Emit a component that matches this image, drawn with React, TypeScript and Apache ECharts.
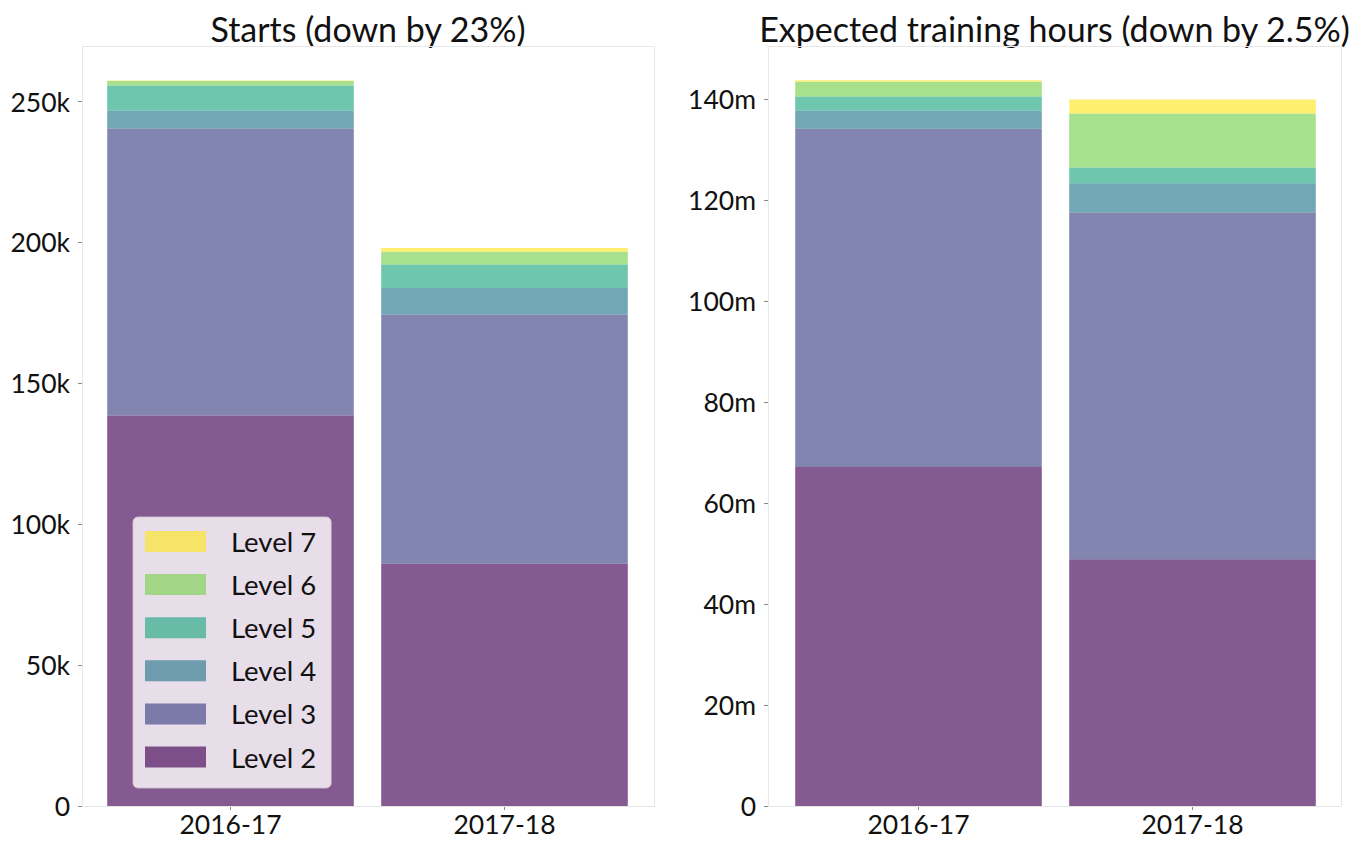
import React, { useEffect, useRef } from "react";
import * as echarts from "echarts";

const categories = ["2016-17", "2017-18"];
const levels = ["Level 2", "Level 3", "Level 4", "Level 5", "Level 6", "Level 7"];
const levelColors = [
  "rgba(68,1,84,0.65)",
  "rgba(65,68,135,0.65)",
  "rgba(42,120,142,0.65)",
  "rgba(34,168,132,0.65)",
  "rgba(122,209,81,0.65)",
  "rgba(253,231,37,0.65)",
];

// Starts by level [2016-17, 2017-18]
const startsL2 = [138600, 86000];
const startsL3 = [101800, 88400];
const startsL4 = [6400, 9400];
const startsL5 = [8900, 8400];
const startsL6 = [1600, 4500];
const startsL7 = [150, 1300];

// Expected training hours by level [2016-17, 2017-18]
const hoursL2 = [67.2e6, 48.9e6];
const hoursL3 = [67.0e6, 68.7e6];
const hoursL4 = [3.6e6, 5.8e6];
const hoursL5 = [2.8e6, 3.1e6];
const hoursL6 = [2.9e6, 10.7e6];
const hoursL7 = [0.3e6, 2.8e6];

const startsTicks = [0, 50000, 100000, 150000, 200000, 250000];
const hoursTicks = [0, 20e6, 40e6, 60e6, 80e6, 100e6, 120e6, 140e6];

const titles = ["Starts (down by 23%)", "Expected training hours (down by 2.5%)"];

const startsByLevel = [startsL2, startsL3, startsL4, startsL5, startsL6, startsL7];
const hoursByLevel = [hoursL2, hoursL3, hoursL4, hoursL5, hoursL6, hoursL7];

const FONT = "Lato, 'Open Sans', sans-serif";
const TEXT = "#111111";

export default function App() {
  const ref = useRef<HTMLDivElement>(null);

  useEffect(() => {
    if (!ref.current) return;
    const chart = echarts.init(ref.current, null, { renderer: "svg" });

    // outer frames (spines) and inner grids (category bands)
    const frames = [
      { left: 82, top: 46, width: 572, height: 760 },
      { left: 768, top: 46, width: 573, height: 760 },
    ];
    const grids = [
      { left: 93.5, top: 46, width: 548, height: 760 },
      { left: 781.5, top: 46, width: 548, height: 760 },
    ];

    const xAxis = grids.map((_, i) => ({
      type: "category",
      gridIndex: i,
      data: categories,
      axisLine: { show: false },
      splitLine: { show: false },
      axisTick: {
        show: true,
        alignWithLabel: true,
        length: 4,
        lineStyle: { color: "#888", width: 1 },
      },
      axisLabel: {
        fontFamily: FONT,
        fontSize: 26.5,
        lineHeight: 18,
        color: TEXT,
        margin: 9,
      },
    }));

    const yCommon = (i: number, max: number, ticks: number[], fmt: (v: number) => string) => ({
      type: "value",
      gridIndex: i,
      min: 0,
      max,
      offset: grids[i].left - frames[i].left,
      axisLine: { show: false, onZero: false },
      splitLine: { show: false },
      axisTick: { show: true, length: 4, customValues: ticks, lineStyle: { color: "#888" } },
      axisLabel: {
        customValues: ticks,
        formatter: fmt,
        fontFamily: FONT,
        fontSize: 26.5,
        color: TEXT,
        margin: 12,
      },
    });

    const yAxis = [
      yCommon(0, 269700, startsTicks, (v) => (v === 0 ? "0" : `${Math.round(v / 1000)}k`)),
      yCommon(1, 150.6e6, hoursTicks, (v) => (v === 0 ? "0" : `${Math.round(v / 1e6)}m`)),
    ];

    const series: any[] = [];
    [startsByLevel, hoursByLevel].forEach((byLevel, gi) => {
      byLevel.forEach((vals, li) => {
        series.push({
          type: "bar",
          name: levels[li],
          xAxisIndex: gi,
          yAxisIndex: gi,
          stack: gi === 0 ? "starts" : "hours",
          barWidth: "90%",
          data: vals,
          itemStyle: { color: levelColors[li] },
          emphasis: { disabled: true },
        });
      });
    });

    chart.setOption({
      animation: false,
      backgroundColor: "#ffffff",
      grid: grids.map((g) => ({ ...g, containLabel: false })),
      xAxis,
      yAxis,
      legend: {
        show: true,
        orient: "vertical",
        left: 133,
        top: 517,
        data: [...levels].reverse(),
        icon: "rect",
        itemWidth: 61,
        itemHeight: 21,
        itemGap: 15.1,
        padding: [10.5, 15, 17, 12],
        backgroundColor: "rgba(255,255,255,0.8)",
        borderColor: "rgba(204,204,204,0.8)",
        borderWidth: 1,
        borderRadius: 5,
        selectedMode: false,
        textStyle: {
          fontFamily: FONT,
          fontSize: 27.5,
          color: TEXT,
          padding: [0, 0, 0, 20],
        },
      },
      graphic: [
        ...frames.map((f) => ({
          type: "rect",
          z: 10,
          silent: true,
          shape: { x: f.left + 0.5, y: f.top + 0.5, width: f.width, height: f.height },
          style: { fill: "none", stroke: "#e6e6e6", lineWidth: 1 },
        })),
        ...titles.map((t, i) => ({
          type: "text",
          x: frames[i].left + frames[i].width / 2,
          y: 28,
          style: {
            text: t,
            fontFamily: FONT,
            fontSize: 34,
            fill: TEXT,
            align: "center",
            verticalAlign: "middle",
          },
        })),
      ],
      series,
    });

    return () => chart.dispose();
  }, []);

  return (
    <div
      ref={ref}
      style={{ position: "absolute", left: 0, top: 0, width: 1355, height: 841 }}
    />
  );
}
